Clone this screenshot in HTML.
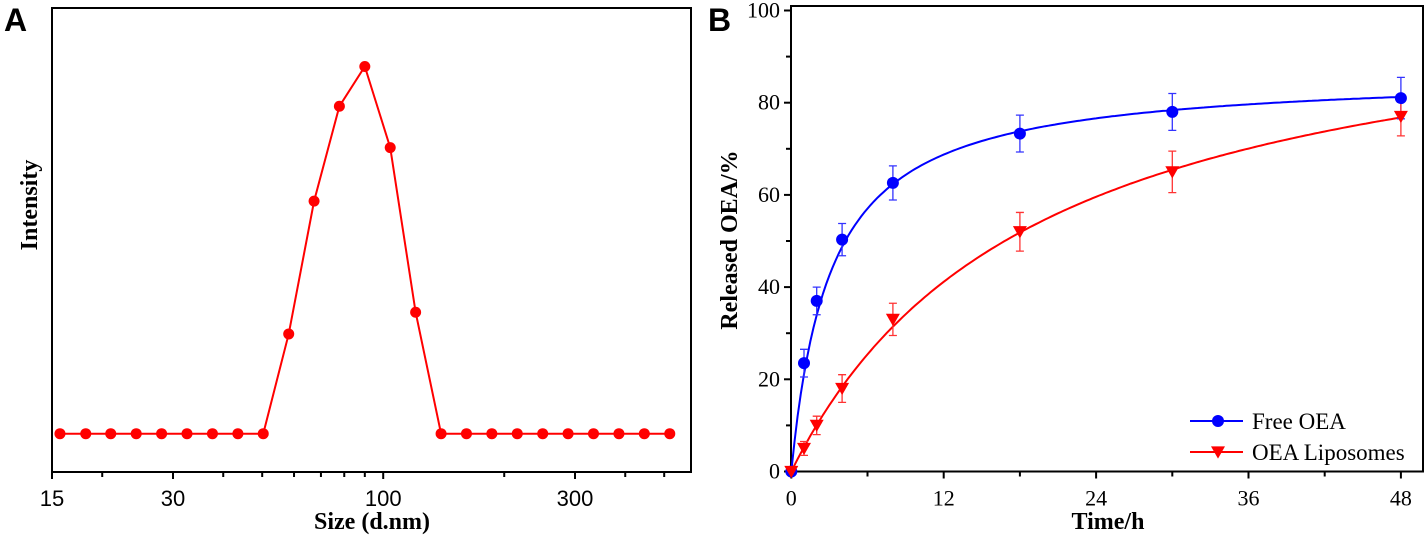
<!DOCTYPE html>
<html><head><meta charset="utf-8"><style>
body{margin:0;background:#fff;width:1428px;height:538px;overflow:hidden}
svg{display:block}
.ser{font-family:"Liberation Serif",serif}
.san{font-family:"Liberation Sans",sans-serif}
</style></head><body>
<svg id="c" width="1428" height="538" xmlns="http://www.w3.org/2000/svg"></svg>
<script>
// Panel A data
const sizes=[15.7,18.2,21.0,24.3,28.1,32.5,37.6,43.5,50.3,58.2,67.3,77.8,90.0,104.1,120.4,139.3,161.1,186.3,215.5,249.3,288.3,333.5,385.8,446.2,516.2];
const intensity=[0,0,0,0,0,0,0,0,0,3.26,7.6,10.7,12.0,9.35,3.97,0,0,0,0,0,0,0,0,0,0];
const aMajorTicks=[15,30,100,300];
const aMinorTicks=[20,40,50,60,70,80,90,200,400,500];
// Panel B data
const times=[0,1,2,4,8,18,30,48];
const freeOEA=[0,23.5,37,50.3,62.6,73.3,78,81];
const freeErr=[0,3,3,3.5,3.7,4,4,4.5];
const liposomes=[0,5,10,18,33,52,65,77];
const lipoErr=[0,1.5,2,3,3.5,4.2,4.5,4.2];
const freeFit=[86.5,3.1];
const lipoFit=[108,19.5];
const bXTicks=[0,12,24,36,48];
const bYTicks=[0,20,40,60,80,100];

const svg=document.getElementById('c');
const NS='http://www.w3.org/2000/svg';
function mk(t,a,p){const e=document.createElementNS(NS,t);for(const k in a)e.setAttribute(k,a[k]);(p||svg).appendChild(e);return e;}
function tx(x,y,s,cls,size,anchor,extra){const e=mk('text',Object.assign({x:x,y:y,'font-size':size,'text-anchor':anchor||'middle',class:cls},extra||{}));e.textContent=s;return e;}

// Panel A scales
const axL=52,axR=691,axT=8,axB=472;
const xA=v=>52+402*Math.log10(v/15);
const yA=v=>433.7-v*30.6;
let g=mk('g',{});


let r=mk('rect',{x:axL,y:axT,width:axR-axL,height:axB-axT,fill:'none',stroke:'#000','stroke-width':2},g);


aMajorTicks.forEach(v=>{const x=xA(v);mk('line',{x1:x,x2:x,y1:axB,y2:axB+7,stroke:'#000','stroke-width':2},g);
 const t=tx(x,axB+34,String(v),'san',22);});
aMinorTicks.forEach(v=>{const x=xA(v);mk('line',{x1:x,x2:x,y1:axB,y2:axB+5,stroke:'#000','stroke-width':2},g);});
let pts=sizes.map((s,i)=>xA(s)+','+yA(intensity[i])).join(' ');
let pl=mk('polyline',{points:pts,fill:'none',stroke:'#f00','stroke-width':2},g);


sizes.forEach((s,i)=>{const c=mk('circle',{cx:xA(s),cy:yA(intensity[i]),r:5.5,fill:'#f00'},g);
 
 });
let t1=tx(372,529,'Size (d.nm)','ser',24,'middle',{'font-weight':'bold'});

let t2=tx(0,0,'Intensity','ser',24,'middle',{'font-weight':'bold',transform:'translate(37,205) rotate(-90)'});

let la=tx(4,31,'A','san',32,'start',{'font-weight':'bold'});


// Panel B scales
const bL=791,bR=1423,bT=6,bB=471.5;
const xB=v=>791.3+v*(152.4/12);
const yB=v=>471.5-v*4.61;
let gb=mk('g',{});


let rb=mk('rect',{x:bL,y:bT,width:bR-bL,height:bB-bT,fill:'none',stroke:'#000','stroke-width':2},gb);


bXTicks.forEach(v=>{const x=xB(v);mk('line',{x1:x,x2:x,y1:bB,y2:bB+7,stroke:'#000','stroke-width':2},gb);
 const t=tx(x,bB+34,String(v),'ser',22);
 if(v<48)mk('line',{x1:xB(v+6),x2:xB(v+6),y1:bB,y2:bB+5,stroke:'#000','stroke-width':2},gb);});
bYTicks.forEach(v=>{const y=yB(v);mk('line',{x1:bL-7,x2:bL,y1:y,y2:y,stroke:'#000','stroke-width':2},gb);
 const t=tx(bL-11,y+7,String(v),'ser',22,'end');
 if(v<100)mk('line',{x1:bL-5,x2:bL,y1:yB(v+10),y2:yB(v+10),stroke:'#000','stroke-width':2},gb);});
function fitPath(p){let d='';for(let t=0;t<=48;t+=0.25){const v=p[0]*t/(p[1]+t);d+=(t?'L':'M')+xB(t).toFixed(1)+','+yB(v).toFixed(1);}return d;}
let fb=mk('path',{d:fitPath(freeFit),fill:'none',stroke:'#00f','stroke-width':2},gb);

let fr=mk('path',{d:fitPath(lipoFit),fill:'none',stroke:'#f00','stroke-width':2},gb);

function errBars(vals,errs,col,name){times.forEach((t,i)=>{if(!errs[i])return;const x=xB(t),y1=yB(vals[i]-errs[i]),y2=yB(vals[i]+errs[i]);
 const e=mk('path',{d:`M${x},${y1}V${y2}M${x-4},${y1}H${x+4}M${x-4},${y2}H${x+4}`,stroke:col,'stroke-width':1.3,fill:'none'},gb);
 
 });}
errBars(freeOEA,freeErr,'#33f','free-oea-error-bar');
errBars(liposomes,lipoErr,'#f33','liposome-error-bar');
times.forEach((t,i)=>{const c=mk('circle',{cx:xB(t),cy:yB(freeOEA[i]),r:6,fill:'#00f'},gb);
 
 });
function tri(x,y,s){return `${x-s},${y-s*0.8} ${x+s},${y-s*0.8} ${x},${y+s*0.95}`;}
times.forEach((t,i)=>{const p=mk('polygon',{points:tri(xB(t),yB(liposomes[i]),7),fill:'#f00'},gb);
 
 });
// legend
let lg=mk('g',{},gb);


mk('line',{x1:1190,x2:1243,y1:421,y2:421,stroke:'#00f','stroke-width':2},lg);
mk('circle',{cx:1218,cy:421,r:6,fill:'#00f'},lg);
let l1=tx(1252,429,'Free OEA','ser',23,'start');lg.appendChild(l1);
mk('line',{x1:1190,x2:1243,y1:452,y2:452,stroke:'#f00','stroke-width':2},lg);
mk('polygon',{points:tri(1218,452,7),fill:'#f00'},lg);
let l2=tx(1252,460,'OEA Liposomes','ser',23,'start');lg.appendChild(l2);
let t3=tx(1108,529,'Time/h','ser',24,'middle',{'font-weight':'bold'});

let t4=tx(0,0,'Released OEA/%','ser',24,'middle',{'font-weight':'bold',transform:'translate(737,240) rotate(-90)'});

let lb=tx(708,31,'B','san',32,'start',{'font-weight':'bold'});

</script>
</body></html>
